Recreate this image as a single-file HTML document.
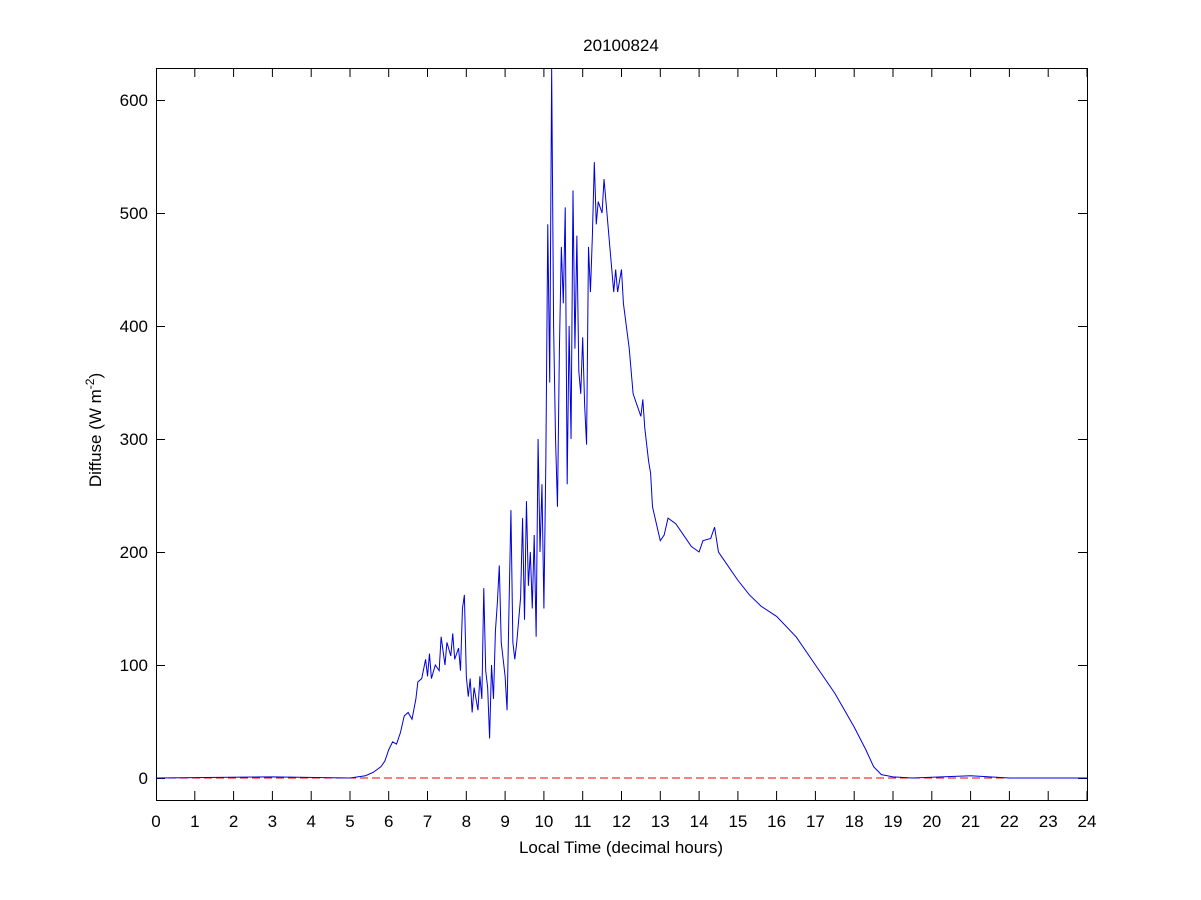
<!DOCTYPE html>
<html><head><meta charset="utf-8"><style>body{margin:0;background:#fff}svg{display:block}text{font-family:"Liberation Sans",sans-serif;font-size:17px;fill:#000}</style></head><body>
<svg width="1201" height="900" xmlns="http://www.w3.org/2000/svg">
<rect width="1201" height="900" fill="#fff"/>
<path stroke="#000" stroke-width="1" fill="none" d="M156.5,800v-9M194.8,800v-9M233.6,800v-9M272.4,800v-9M311.2,800v-9M350,800v-9M388.7,800v-9M427.5,800v-9M466.3,800v-9M505.1,800v-9M543.9,800v-9M582.7,800v-9M621.5,800v-9M660.3,800v-9M699.1,800v-9M737.9,800v-9M776.6,800v-9M815.4,800v-9M854.2,800v-9M893,800v-9M931.8,800v-9M970.6,800v-9M1009.4,800v-9M1048.2,800v-9M1087,800v-9
M156.5,68v9M194.8,68v9M233.6,68v9M272.4,68v9M311.2,68v9M350,68v9M388.7,68v9M427.5,68v9M466.3,68v9M505.1,68v9M543.9,68v9M582.7,68v9M621.5,68v9M660.3,68v9M699.1,68v9M737.9,68v9M776.6,68v9M815.4,68v9M854.2,68v9M893,68v9M931.8,68v9M970.6,68v9M1009.4,68v9M1048.2,68v9M1087,68v9
M156,778.5h9M156,665.5h9M156,552.5h9M156,439.5h9M156,326.5h9M156,213.5h9M156,100.5h9
M1087,778.5h-9M1087,665.5h-9M1087,552.5h-9M1087,439.5h-9M1087,326.5h-9M1087,213.5h-9M1087,100.5h-9"/>
<rect x="156.5" y="68.5" width="931" height="732" fill="none" stroke="#000"/>
<line x1="156" y1="778" x2="1087" y2="778" stroke="#e00" stroke-dasharray="8,4"/>
<g transform="translate(156,778) scale(38.79,-1.13)">
<polyline fill="none" stroke="#0000dd" stroke-width="1" vector-effect="non-scaling-stroke" points="0,0 3,1 5,0 5.4,2 5.6,5 5.8,10 5.9,15 6.0,25 6.1,32 6.2,30 6.3,40 6.4,55 6.5,58 6.6,52 6.7,70 6.75,85 6.85,88 6.95,105 7.0,90 7.05,110 7.1,88 7.2,100 7.3,95 7.35,125 7.45,100 7.5,120 7.6,108 7.65,128 7.7,105 7.8,115 7.85,95 7.9,150 7.95,162 8.0,90 8.05,72 8.1,88 8.15,58 8.2,80 8.3,60 8.35,90 8.4,70 8.45,168 8.5,95 8.55,80 8.6,35 8.65,100 8.7,70 8.75,130 8.8,155 8.85,188 8.9,120 9.0,90 9.05,60 9.1,150 9.15,237 9.2,120 9.25,105 9.3,120 9.4,160 9.45,230 9.5,140 9.55,245 9.6,170 9.65,200 9.7,150 9.75,215 9.8,125 9.85,300 9.9,200 9.95,260 10.0,150 10.05,280 10.1,490 10.15,350 10.2,628 10.25,400 10.3,300 10.35,240 10.4,380 10.45,470 10.5,420 10.55,505 10.6,260 10.65,400 10.7,300 10.75,520 10.8,380 10.85,480 10.9,360 10.95,340 11.0,390 11.05,330 11.1,295 11.15,470 11.2,430 11.25,480 11.3,545 11.35,490 11.4,510 11.5,500 11.55,530 11.6,510 11.7,470 11.8,430 11.85,450 11.9,430 12.0,450 12.05,420 12.2,380 12.3,340 12.5,320 12.55,335 12.6,310 12.7,280 12.75,270 12.8,240 12.9,225 13.0,210 13.1,215 13.2,230 13.4,225 13.6,215 13.8,205 14.0,200 14.1,210 14.3,212 14.4,222 14.5,200 14.7,190 15.0,175 15.3,162 15.6,152 16.0,143 16.5,125 17.0,100 17.5,75 18.0,45 18.3,25 18.5,10 18.7,3 19.0,1 19.5,0 21.0,2 21.5,1 22,0 24,0"/>
</g>
<text x="621" y="51" text-anchor="middle">20100824</text>
<text x="621" y="853" text-anchor="middle">Local Time (decimal hours)</text>
<text transform="translate(101,430) rotate(-90)" text-anchor="middle">Diffuse (W m<tspan dy="-7" font-size="12">-2</tspan><tspan dy="7">)</tspan></text>
<g text-anchor="middle">
<text x="156" y="827">0</text><text x="194.8" y="827">1</text><text x="233.6" y="827">2</text><text x="272.4" y="827">3</text><text x="311.2" y="827">4</text><text x="350" y="827">5</text><text x="388.7" y="827">6</text><text x="427.5" y="827">7</text><text x="466.3" y="827">8</text><text x="505.1" y="827">9</text><text x="543.9" y="827">10</text><text x="582.7" y="827">11</text><text x="621.5" y="827">12</text><text x="660.3" y="827">13</text><text x="699.1" y="827">14</text><text x="737.9" y="827">15</text><text x="776.6" y="827">16</text><text x="815.4" y="827">17</text><text x="854.2" y="827">18</text><text x="893" y="827">19</text><text x="931.8" y="827">20</text><text x="970.6" y="827">21</text><text x="1009.4" y="827">22</text><text x="1048.2" y="827">23</text><text x="1087" y="827">24</text>
</g>
<g text-anchor="end">
<text x="148" y="784">0</text><text x="148" y="671">100</text><text x="148" y="558">200</text><text x="148" y="445">300</text><text x="148" y="332">400</text><text x="148" y="219">500</text><text x="148" y="106">600</text>
</g>
</svg></body></html>
